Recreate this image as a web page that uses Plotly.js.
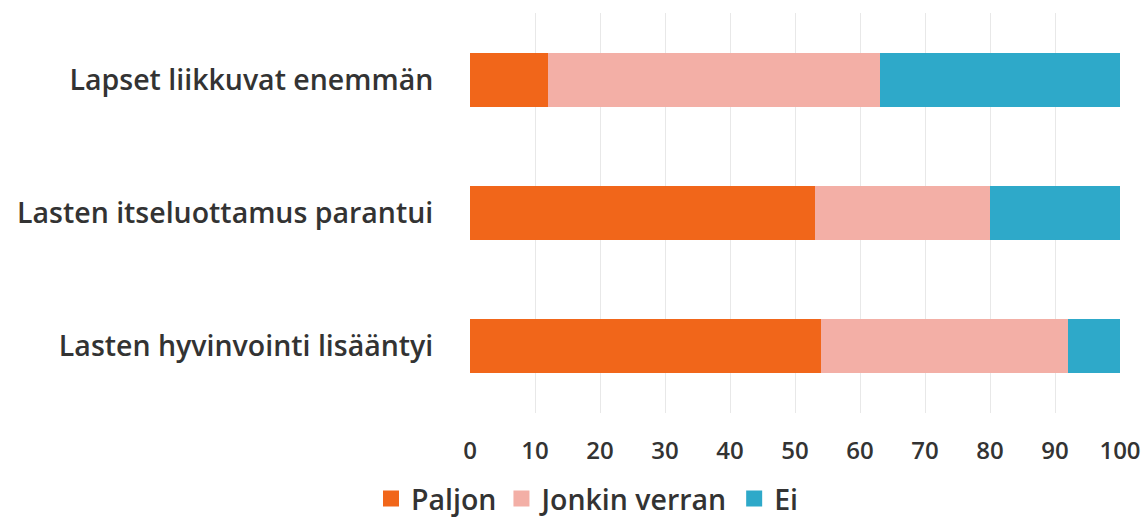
<!DOCTYPE html>
<html>
<head>
<meta charset="utf-8">
<script src="https://cdn.plot.ly/plotly-3.0.1.min.js"></script>
<style>html,body{margin:0;padding:0;background:#fff;}#chart{width:1143px;height:523px;}</style>
</head>
<body>
<div id="chart"></div>
<script>
const categories = ["Lapset liikkuvat enemmän", "Lasten itseluottamus parantui", "Lasten hyvinvointi lisääntyi"];
const paljon = [12, 53, 54];
const jonkinVerran = [51, 27, 38];
const ei = [37, 20, 8];
const seriesNames = ["Paljon", "Jonkin verran", "Ei"];
const xTicks = [0, 10, 20, 30, 40, 50, 60, 70, 80, 90, 100];

const colors = ["#F1661A", "#F3AFA6", "#2EA9C9"];
const values = [paljon, jonkinVerran, ei];
const font = "Open Sans, Noto Sans, sans-serif";
const textColor = "#333333";

const barTraces = values.map((v, i) => ({
  type: "bar",
  orientation: "h",
  name: seriesNames[i],
  y: categories,
  x: v,
  marker: {color: colors[i], line: {width: 0}},
  showlegend: false,
  hoverinfo: "x+name"
}));

// legend-only entries with larger square swatches
const legendTraces = seriesNames.map((n, i) => ({
  type: "scatter",
  mode: "markers",
  name: n,
  x: [null], y: [null],
  marker: {symbol: "square", size: 18, color: colors[i]},
  showlegend: true,
  hoverinfo: "skip"
}));

const layout = {
  width: 1143, height: 523,
  barmode: "stack",
  bargap: 0.595,
  margin: {l: 470, r: 23, t: 13, b: 110},
  paper_bgcolor: "#fff", plot_bgcolor: "#fff",
  font: {family: font, color: textColor, weight: 600},
  xaxis: {
    range: [0, 100], tickvals: xTicks, ticktext: xTicks.map(String),
    showgrid: true, gridcolor: "#e8e8e8", gridwidth: 1,
    zeroline: false, showline: false,
    ticks: "outside", ticklen: 16, tickcolor: "rgba(0,0,0,0)",
    tickfont: {size: 24, color: textColor, family: font, weight: 600}
  },
  yaxis: {
    autorange: "reversed", showgrid: false, zeroline: false, showline: false,
    ticks: "outside", ticklen: 30, tickcolor: "rgba(0,0,0,0)",
    tickfont: {size: 28.5, color: textColor, family: font, weight: 600}
  },
  legend: {
    orientation: "h", xref: "container", x: 0.514, xanchor: "center",
    yref: "container", y: 0.046, yanchor: "middle",
    font: {size: 28.5, color: textColor, family: font, weight: 600},
    itemwidth: 30, traceorder: "normal"
  },
  showlegend: true
};

Plotly.newPlot("chart", barTraces.concat(legendTraces), layout, {displayModeBar: false, staticPlot: true});
</script>
</body>
</html>
